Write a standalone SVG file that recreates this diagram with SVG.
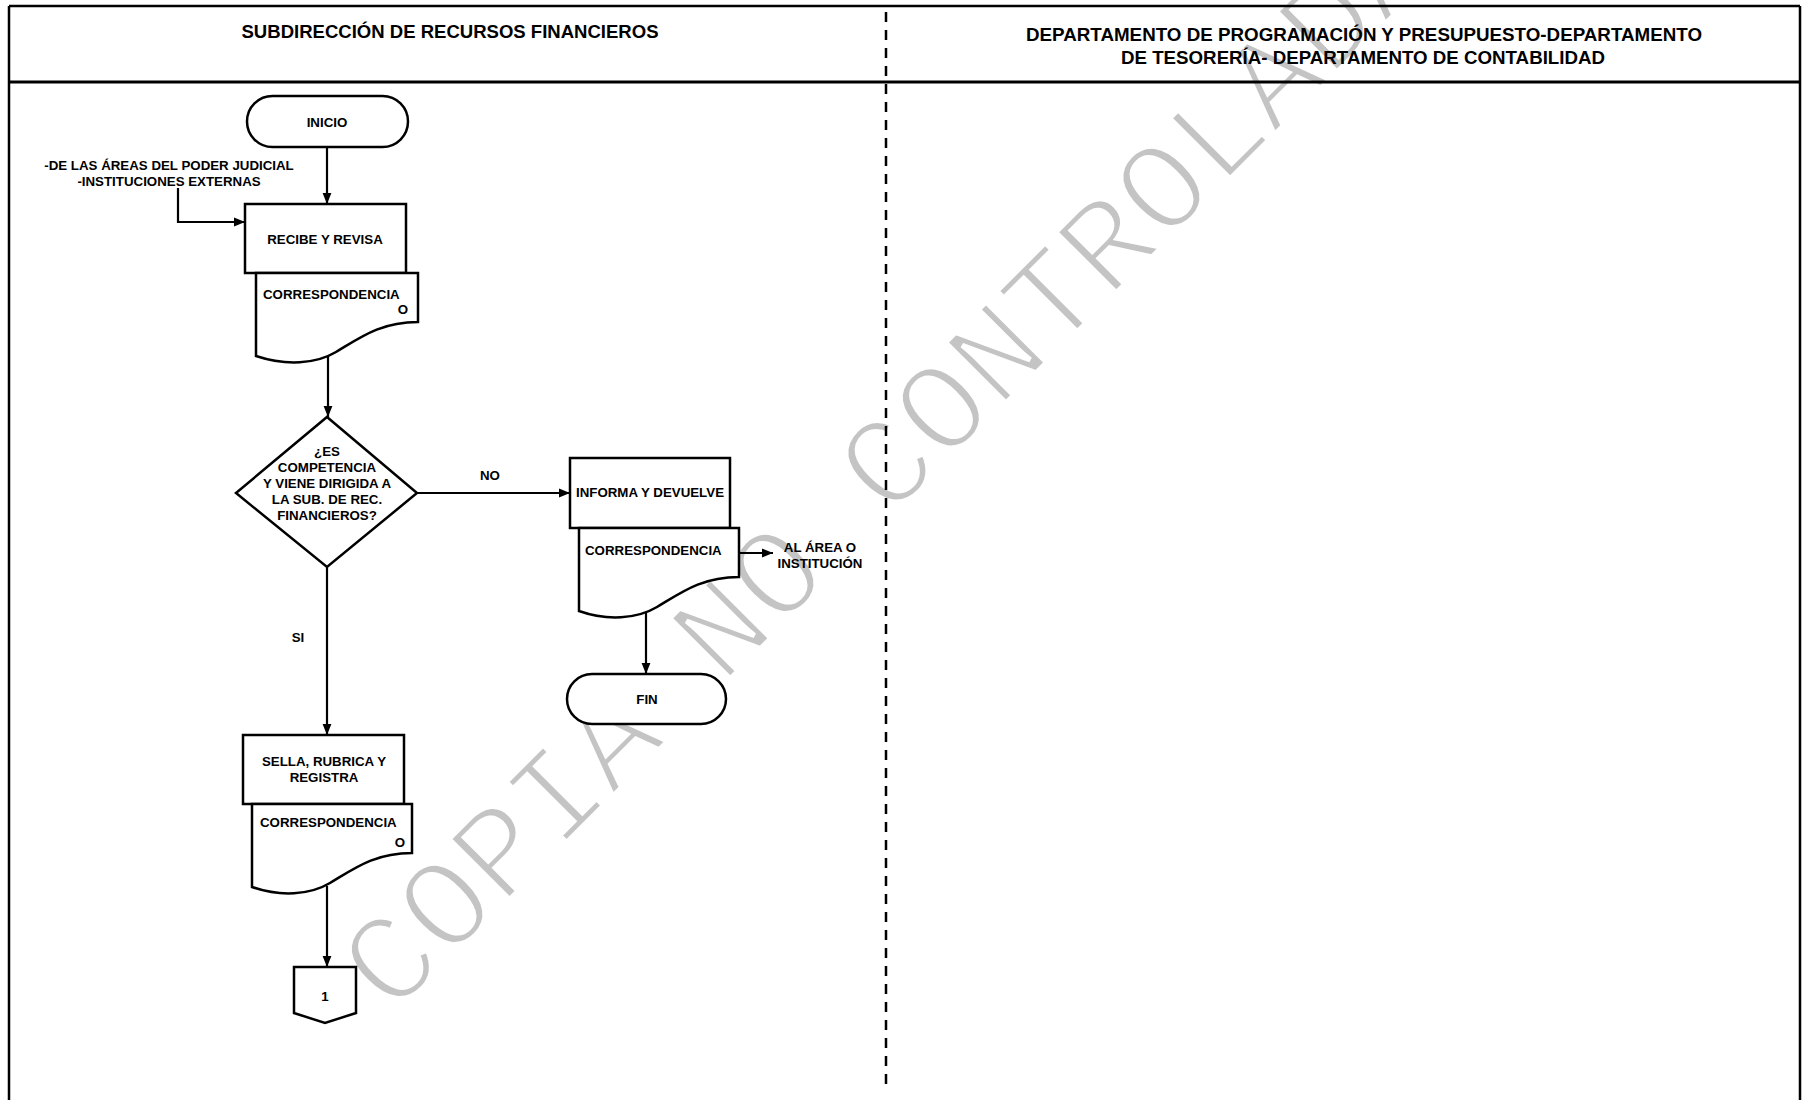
<svg xmlns="http://www.w3.org/2000/svg" width="1809" height="1100" viewBox="0 0 1809 1100">
<defs>
<style>
.t{font-family:"Liberation Sans",Arial,sans-serif;font-weight:bold;font-size:13.3px;fill:#000}
.c{text-anchor:middle}
.h{font-family:"Liberation Sans",Arial,sans-serif;font-weight:bold;font-size:18px;fill:#000;text-anchor:middle}
.s{fill:#fff;stroke:#000;stroke-width:2.5}
.ln{fill:none;stroke:#000;stroke-width:2.2}
.fr{fill:none;stroke:#000;stroke-width:2.5}
.wm{font-family:"Liberation Mono","Courier New",monospace;font-size:130px;fill:#c4c4c4;stroke:#fff;stroke-width:5}
</style>
<marker id="ah" viewBox="0 0 10 10" refX="10" refY="5" markerWidth="11" markerHeight="11" markerUnits="userSpaceOnUse" orient="auto">
<path d="M0,1 L10,5 L0,9 Z" fill="#000"/>
</marker>
</defs>
<rect width="1809" height="1100" fill="#fff"/>

<g id="watermark">
<text class="wm" transform="translate(392,1017) rotate(-45)">COPIA NO CONTROLADA</text>
</g>

<g id="frame">
<line class="fr" x1="9" y1="6" x2="1800" y2="6"/>
<line class="fr" x1="9" y1="6" x2="9" y2="1100"/>
<line class="fr" x1="1800" y1="6" x2="1800" y2="1100"/>
<line x1="9" y1="82" x2="1800" y2="82" stroke="#000" stroke-width="3"/>
<line x1="886" y1="12" x2="886" y2="1090" stroke="#000" stroke-width="2.5" stroke-dasharray="10 8"/>
</g>

<g id="headers">
<text class="h" x="450" y="38" textLength="417" lengthAdjust="spacingAndGlyphs">SUBDIRECCIÓN DE RECURSOS FINANCIEROS</text>
<text class="h" x="1364" y="41" textLength="676" lengthAdjust="spacingAndGlyphs">DEPARTAMENTO DE PROGRAMACIÓN Y PRESUPUESTO-DEPARTAMENTO</text>
<text class="h" x="1363" y="64" textLength="484" lengthAdjust="spacingAndGlyphs">DE TESORERÍA- DEPARTAMENTO DE CONTABILIDAD</text>
</g>

<g id="connectors">
<line class="ln" x1="327" y1="147" x2="327" y2="204" marker-end="url(#ah)"/>
<polyline class="ln" points="178,188 178,222 245,222" marker-end="url(#ah)"/>
<line class="ln" x1="328" y1="356" x2="328" y2="417" marker-end="url(#ah)"/>
<line class="ln" x1="417" y1="493" x2="570" y2="493" marker-end="url(#ah)"/>
<line class="ln" x1="327" y1="567" x2="327" y2="735" marker-end="url(#ah)"/>
<line class="ln" x1="739" y1="553" x2="773" y2="553" marker-end="url(#ah)"/>
<line class="ln" x1="646" y1="612" x2="646" y2="674" marker-end="url(#ah)"/>
<line class="ln" x1="327" y1="886" x2="327" y2="967" marker-end="url(#ah)"/>
<text class="t c" x="490" y="480">NO</text>
<text class="t c" x="298" y="642">SI</text>
</g>

<g id="ext-source">
<text class="t c" x="169" y="170">-DE LAS ÁREAS DEL PODER JUDICIAL</text>
<text class="t c" x="169" y="186">-INSTITUCIONES EXTERNAS</text>
</g>

<g id="inicio">
<rect class="s" x="247" y="96" width="161" height="51" rx="25.5" ry="25.5"/>
<text class="t c" x="327" y="127">INICIO</text>
</g>

<g id="recibe">
<rect class="s" x="245" y="204" width="161" height="69"/>
<text class="t c" x="325" y="244">RECIBE Y REVISA</text>
</g>

<g id="doc1">
<path class="s" d="M256,273 H418 V322 C381,322 361,337 336,352 C316,364 286,366 256,356 Z"/>
<text class="t" x="263" y="299">CORRESPONDENCIA</text>
<text class="t c" x="403" y="314">O</text>
</g>

<g id="decision">
<polygon class="s" points="327,417 417,493 327,567 236,493"/>
<text class="t c" x="327" y="456">¿ES</text>
<text class="t c" x="327" y="472">COMPETENCIA</text>
<text class="t c" x="327" y="488">Y VIENE DIRIGIDA A</text>
<text class="t c" x="327" y="504">LA SUB. DE REC.</text>
<text class="t c" x="327" y="520">FINANCIEROS?</text>
</g>

<g id="informa">
<rect class="s" x="570" y="458" width="160" height="70"/>
<text class="t c" x="650" y="497">INFORMA Y DEVUELVE</text>
</g>

<g id="doc2">
<path class="s" d="M579,528 H739 V577 C702,577 682,592 657,607 C637,619 607,621 579,611 Z"/>
<text class="t" x="585" y="555">CORRESPONDENCIA</text>
</g>

<g id="destino">
<text class="t c" x="820" y="552">AL ÁREA O</text>
<text class="t c" x="820" y="568">INSTITUCIÓN</text>
</g>

<g id="fin">
<rect class="s" x="567" y="674" width="159" height="50" rx="25" ry="25"/>
<text class="t c" x="647" y="704">FIN</text>
</g>

<g id="sella">
<rect class="s" x="243" y="735" width="161" height="69"/>
<text class="t c" x="324" y="766">SELLA, RUBRICA Y</text>
<text class="t c" x="324" y="782">REGISTRA</text>
</g>

<g id="doc3">
<path class="s" d="M252,804 H412 V853 C375,853 355,868 330,883 C310,895 280,897 252,887 Z"/>
<text class="t" x="260" y="827">CORRESPONDENCIA</text>
<text class="t c" x="400" y="847">O</text>
</g>

<g id="offpage1">
<polygon class="s" points="294,967 356,967 356,1013 325,1023 294,1013"/>
<text class="t c" x="325" y="1001">1</text>
</g>
</svg>
